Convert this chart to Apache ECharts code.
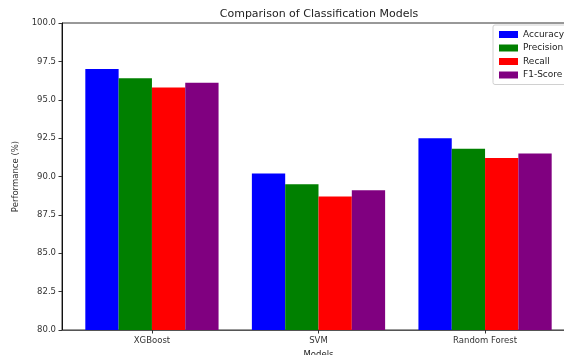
<!DOCTYPE html>
<html>
<head>
<meta charset="utf-8">
<script src="https://cdn.jsdelivr.net/npm/echarts@6/dist/echarts.min.js"></script>
<style>html,body{margin:0;padding:0;background:#fff;}#c{width:564px;height:355px;}</style>
</head>
<body>
<div id="c"></div>
<script>
const categories = ['XGBoost', 'SVM', 'Random Forest'];
const seriesNames = ['Accuracy', 'Precision', 'Recall', 'F1-Score'];
const accuracy = [97.0, 90.2, 92.5];
const precision = [96.4, 89.5, 91.8];
const recall = [95.8, 88.7, 91.2];
const f1score = [96.1, 89.1, 91.5];
const yMin = 80, yMax = 100, yStep = 2.5;
const colors = ['#0000ff', '#008000', '#ff0000', '#800080'];

const values = [accuracy, precision, recall, f1score];
const font = 'DejaVu Sans';
const chart = echarts.init(document.getElementById('c'), null, {renderer: 'canvas'});
chart.setOption({
  animation: false,
  backgroundColor: '#ffffff',
  title: {
    text: 'Comparison of Classification Models',
    left: 314, top: 4, textAlign: 'center',
    textStyle: {fontFamily: font, fontSize: 11, fontWeight: 'normal', color: '#222'}
  },
  legend: {
    data: seriesNames,
    orient: 'vertical',
    left: 493, top: 25,
    itemWidth: 19, itemHeight: 7, itemGap: 4.5,
    padding: [5, 6, 5, 6],
    backgroundColor: 'rgba(255,255,255,0.85)',
    borderColor: '#d0d0d0', borderWidth: 1, borderRadius: 2,
    textStyle: {fontFamily: font, fontSize: 9, color: '#222'},
    icon: 'rect'
  },
  grid: {
    left: 62, width: 513, top: 23, height: 307,
    outerBoundsMode: 'none', containLabel: false,
    show: true, borderColor: '#333', borderWidth: 1, backgroundColor: 'transparent'
  },
  xAxis: {
    type: 'value', min: -0.54, max: 2.54,
    name: 'Models', nameLocation: 'middle', nameGap: 17,
    nameTextStyle: {fontFamily: font, fontSize: 8.5, color: '#222'},
    splitLine: {show: false},
    axisLine: {show: true, onZero: false, lineStyle: {color: '#555', width: 1}},
    axisTick: {show: true, length: 3.5, customValues: [0, 1, 2], lineStyle: {color: '#333'}},
    axisLabel: {
      customValues: [0, 1, 2], margin: 6,
      fontFamily: font, fontSize: 8.5, color: '#333',
      formatter: v => categories[Math.round(v)] || ''
    }
  },
  yAxis: {
    type: 'value', min: yMin, max: yMax, interval: yStep,
    name: 'Performance (%)', nameLocation: 'middle', nameGap: 28,
    nameTextStyle: {fontFamily: font, fontSize: 8.5, color: '#333'},
    splitLine: {show: false},
    axisLine: {show: true, onZero: false, lineStyle: {color: '#111', width: 1}},
    axisTick: {show: true, length: 3.5, lineStyle: {color: '#333'}},
    axisLabel: {margin: 6, fontFamily: font, fontSize: 8.5, color: '#333', formatter: v => v.toFixed(1)}
  },
  series: seriesNames.map((n, k) => ({
    name: n, type: 'bar',
    barGap: '0%', barCategoryGap: '20%',
    itemStyle: {color: colors[k]},
    data: categories.map((c, i) => [i, values[k][i]])
  }))
});
</script>
</body>
</html>
